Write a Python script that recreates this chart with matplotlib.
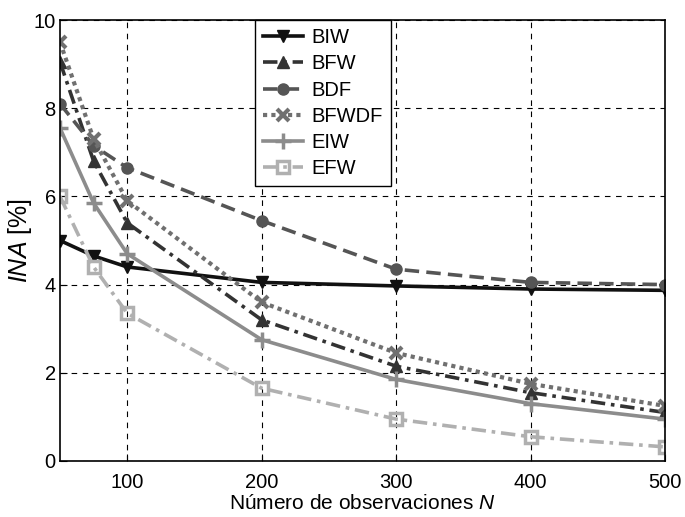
import numpy as np
import matplotlib.pyplot as plt

plt.rcParams['font.family'] = ['Liberation Sans', 'DejaVu Sans']
plt.rcParams['mathtext.fontset'] = 'custom'
plt.rcParams['mathtext.it'] = 'Liberation Sans:italic'
plt.rcParams['mathtext.rm'] = 'Liberation Sans'

n_obs = [50, 75, 100, 200, 300, 400, 500]
biw = [5.0, 4.65, 4.4, 4.05, 3.97, 3.9, 3.87]
bfw = [9.05, 6.8, 5.4, 3.2, 2.15, 1.55, 1.1]
bdf = [8.1, 7.15, 6.65, 5.45, 4.35, 4.05, 4.0]
bfwdf = [9.5, 7.3, 5.9, 3.6, 2.45, 1.75, 1.25]
eiw = [7.55, 5.85, 4.7, 2.75, 1.85, 1.3, 0.95]
efw = [6.0, 4.4, 3.35, 1.65, 0.95, 0.55, 0.32]

fig = plt.figure(figsize=(6.85, 5.17), dpi=100)
ax = fig.add_axes([60 / 685, 1 - 461 / 517, 605 / 685, 441 / 517])

lw = 2.6
ax.plot(n_obs, biw, color='#111111', ls='-', lw=lw, marker='v', ms=9, label='BIW')
ax.plot(n_obs, bfw, color='#333333', ls=(0, (4, 1.6, 1, 1.6)), lw=lw, marker='^', ms=9, label='BFW')
ax.plot(n_obs, bdf, color='#555555', ls=(0, (4, 2)), lw=lw, marker='o', ms=8, label='BDF')
ax.plot(n_obs, bfwdf, color='#707070', ls=(0, (1, 1)), lw=lw + 0.4, marker='x', ms=9, mew=3, label='BFWDF')
ax.plot(n_obs, eiw, color='#8c8c8c', ls='-', lw=lw, marker='+', ms=11, mew=2.5, label='EIW')
ax.plot(n_obs, efw, color='#b0b0b0', ls=(0, (4, 1.6, 1, 1.6)), lw=lw, marker='s', ms=8, mfc='none', mew=2.5, label='EFW')

ax.set_xlim(50, 500)
ax.set_ylim(0, 10)
ax.set_xticks([100, 200, 300, 400, 500])
ax.set_yticks([0, 2, 4, 6, 8, 10])
ax.tick_params(labelsize=14.5, direction='in', length=5)
ax.tick_params(axis='x', pad=9)
ax.tick_params(axis='y', pad=3)
ax.grid(True, color='black', ls=(0, (5, 5)), lw=0.8)
for s in ax.spines.values():
    s.set_linewidth(1.2)

ax.set_xlabel('Número de observaciones $\\mathit{N}$', fontsize=15, labelpad=1)
ax.set_ylabel('$\\mathit{INA}$ [%]', fontsize=18, labelpad=0)

leg = ax.legend(loc='upper left', bbox_to_anchor=(0.322, 1.0), borderaxespad=0,
                fontsize=14.5, fancybox=False, framealpha=1, edgecolor='black',
                handlelength=2.0, labelspacing=0.36, handletextpad=0.4)
leg.get_frame().set_linewidth(1.0)

plt.savefig('out.png')
